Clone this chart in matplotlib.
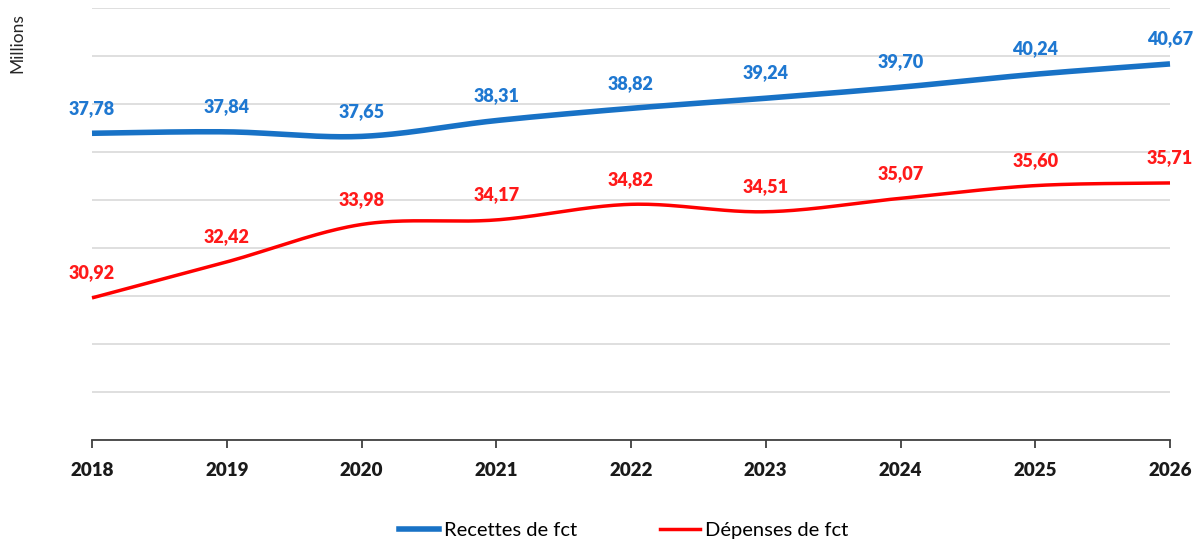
import numpy as np
import matplotlib
matplotlib.use("Agg")
import matplotlib.pyplot as plt
from matplotlib.lines import Line2D

years = [2018, 2019, 2020, 2021, 2022, 2023, 2024, 2025, 2026]
recettes = [37.78, 37.84, 37.65, 38.31, 38.82, 39.24, 39.70, 40.24, 40.67]
depenses = [30.92, 32.42, 33.98, 34.17, 34.82, 34.51, 35.07, 35.60, 35.71]
series_names = ["Recettes de fct", "Dépenses de fct"]
colors = ["#1872C6", "#FF0000"]
label_colors = ["#1F78D1", "#FF1A1A"]

plt.rcParams['font.family'] = ['Lato', 'DejaVu Sans']


def smooth(x, y, n=40):
    x = np.asarray(x, float)
    y = np.asarray(y, float)
    xs, ys = [], []
    for i in range(len(x) - 1):
        p0 = np.array([x[max(i - 1, 0)], y[max(i - 1, 0)]])
        p1 = np.array([x[i], y[i]])
        p2 = np.array([x[i + 1], y[i + 1]])
        p3 = np.array([x[min(i + 2, len(x) - 1)], y[min(i + 2, len(x) - 1)]])
        c1 = p1 + (p2 - p0) / 6
        c2 = p2 - (p3 - p1) / 6
        t = np.linspace(0, 1, n)[:, None]
        pts = ((1 - t) ** 3) * p1 + 3 * ((1 - t) ** 2) * t * c1 + 3 * (1 - t) * t ** 2 * c2 + t ** 3 * p2
        xs.extend(pts[:, 0])
        ys.extend(pts[:, 1])
    return np.array(xs), np.array(ys)


fig = plt.figure(figsize=(12.01, 5.45), dpi=100)
ax = fig.add_axes([92 / 1201, 1 - 440 / 545, (1170 - 92) / 1201, (440 - 8) / 545])
ax.set_xlim(years[0], years[-1])
ax.set_ylim(25, 43)
ax.set_yticks(np.arange(25, 44, 2))
ax.yaxis.grid(True, color="#D9D9D9", linewidth=1.2)
ax.set_axisbelow(True)
ax.tick_params(axis='y', left=False, labelleft=False)
for s in ['top', 'right', 'left']:
    ax.spines[s].set_visible(False)
ax.spines['bottom'].set_color('#404040')
ax.spines['bottom'].set_linewidth(1.3)
ax.set_xticks(years)
ax.set_xticklabels([str(y) for y in years], fontsize=13.5, fontweight='heavy', color='#1a1a1a')
ax.tick_params(axis='x', direction='out', length=6, width=1.3, color='#404040', pad=10)

widths = [4.0, 2.5]
for vals, c, lc, lw in zip([recettes, depenses], colors, label_colors, widths):
    sx, sy = smooth(years, vals)
    ax.plot(sx, sy, color=c, linewidth=lw, solid_capstyle='butt', clip_on=False)
    for x, v in zip(years, vals):
        ax.annotate(f"{v:.2f}".replace('.', ','), (x, v), xytext=(0, 12), textcoords='offset points',
                    ha='center', va='bottom', fontsize=13, fontweight='heavy', color=lc)

fig.text(17 / 1201, 1 - 43 / 545, "Millions", rotation=90, ha='center', va='center', fontsize=12.5, color='#262626')

handles = [Line2D([0], [0], color=colors[0], linewidth=4.0),
           Line2D([0], [0], color=colors[1], linewidth=2.5)]
fig.legend(handles, series_names, loc='center', bbox_to_anchor=(0.519, 1 - 530 / 545), ncol=2,
           frameon=False, handlelength=2.0, handletextpad=0.25, columnspacing=4.1,
           prop={'size': 14.5})

fig.savefig("out.png", dpi=100)
